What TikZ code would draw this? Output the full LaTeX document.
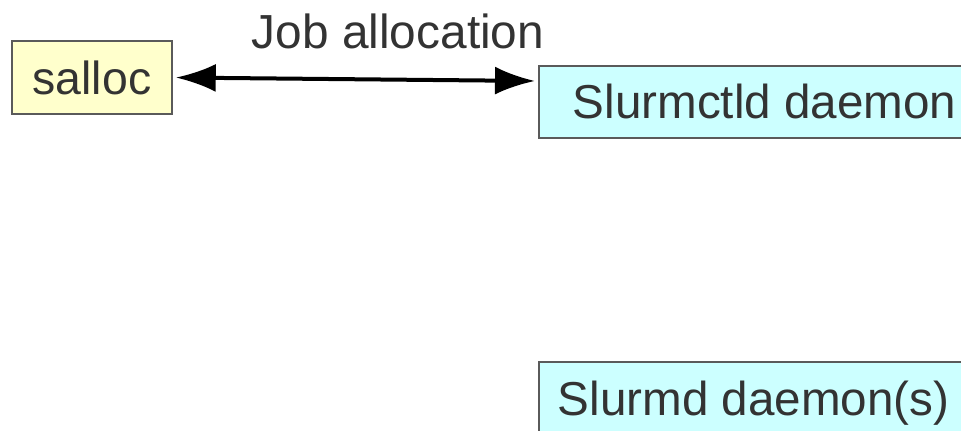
\documentclass[tikz,border=0pt]{standalone}
\usepackage{fontspec}
\setmainfont{Liberation Sans}
\usetikzlibrary{arrows.meta}

\definecolor{textgray}{HTML}{333333}
\definecolor{boxline}{HTML}{5A5A5A}
\definecolor{sallocfill}{HTML}{FFFFCC}
\definecolor{daemonfill}{HTML}{CCFFFF}

\begin{document}
\begin{tikzpicture}[x=0.5pt,y=-0.5pt,
  box/.style={draw=boxline, line width=0.75pt, text=textgray,
    font=\fontsize{23.8}{28}\selectfont, text height=17pt, text depth=0pt, inner ysep=0pt},
  label/.style={text=textgray, font=\fontsize{23.9}{28}\selectfont, text height=17pt, text depth=0pt},
  link/.style={line width=2pt, {Latex[length=20pt,width=14pt]}-{Latex[length=20pt,width=14pt]},
    shorten <=1.5pt, shorten >=1.5pt}
]

\useasboundingbox (0,0) rectangle (961,430);
\clip (0,0) rectangle (961,430);

% Boxes
\node[box, fill=sallocfill, minimum width=80pt, minimum height=36.5pt, font=\fontsize{23.2}{28}\selectfont] (salloc) at (92,77.5) {salloc};
\node[box, fill=daemonfill, anchor=north west, inner xsep=17pt, minimum height=36pt] (ctld) at (538,65) {Slurmctld daemon};
\node[box, fill=daemonfill, anchor=north west, inner xsep=9.5pt, minimum height=37pt] (slurmd) at (538,361) {Slurmd daemon(s)};

% Job allocation arrow
\coordinate (ctldin) at ([yshift=-8pt]ctld.north west);
\draw[link] (salloc.east) -- (ctldin);
\node[label] (joblabel) at (398,31.5) {Job allocation};

\end{tikzpicture}
\end{document}
